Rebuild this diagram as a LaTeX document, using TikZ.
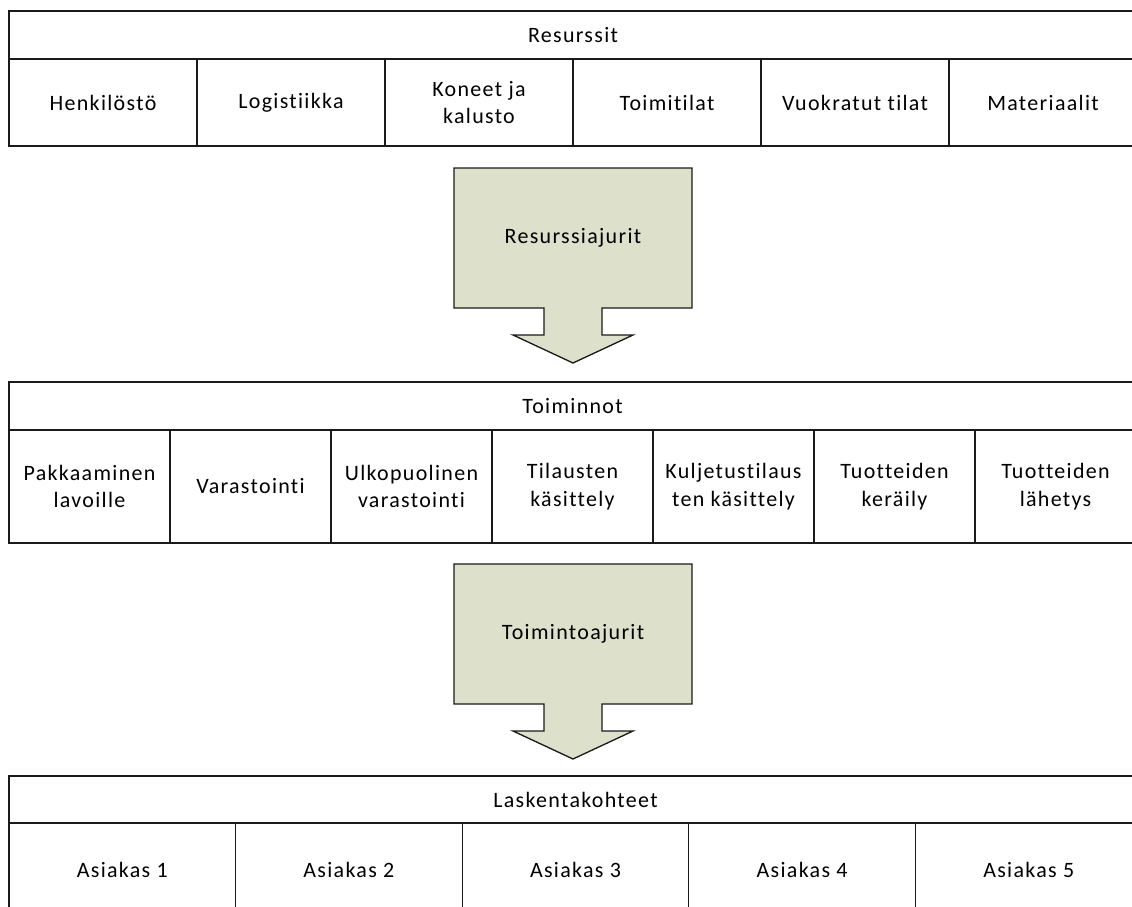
\documentclass[tikz,border=0pt]{standalone}
\usepackage{fontspec}
\setmainfont{Carlito}[LetterSpace=6, Ligatures=NoCommon]
\usepackage{tikz}

\definecolor{ajurifill}{RGB}{221,224,203}
\definecolor{viiva}{RGB}{26,26,26}

\tikzset{
	otsikko/.style={draw=viiva, line width=0.75pt, inner sep=0pt},
	solu/.style={draw=viiva, line width=0.75pt, align=center, inner sep=0pt},
	ajuri/.style={draw=viiva, line width=0.75pt, fill=ajurifill}
}

\begin{document}
\begin{tikzpicture}[x=0.02cm, y=-0.02cm, font=\fontsize{12.5}{15.6}\selectfont]
		\useasboundingbox (0,0) rectangle (1132,906);
		\clip (0,0) rectangle (1132,906);
		
		% Resurssit
		\node[otsikko, minimum width=22.56cm, minimum height=0.96cm] (resurssit) at (573,35) {Resurssit};
		\foreach \i/\txt in {0/Henkilöstö, 1/Logistiikka, 2/Koneet ja\\kalusto, 3/Toimitilat, 4/Vuokratut tilat, 5/Materiaalit}
			\node[solu, minimum width=3.76cm, minimum height=1.74cm] (res\i) at (103+188*\i,102.5) {\txt};
		
		% ajurit
		\foreach \dy/\nimi/\txt in {0/resajurit/Resurssiajurit, 396/toimajurit/Toimintoajurit}{
			\draw[ajuri] (454,168+\dy) -- (692,168+\dy) -- (692,308+\dy) -- (602,308+\dy) -- (602,335+\dy)
				-- (633,335+\dy) -- (573,363+\dy) -- (513,335+\dy) -- (544,335+\dy) -- (544,308+\dy) -- (454,308+\dy) -- cycle;
			\node (\nimi) at (573,238+\dy) {\txt};
		}
		
		% Toiminnot
		\node[otsikko, minimum width=22.54cm, minimum height=0.96cm] (toiminnot) at (572.5,406) {Toiminnot};
		\foreach \i/\txt in {0/Pakkaaminen\\lavoille, 1/Varastointi, 2/Ulkopuolinen\\varastointi, 3/Tilausten\\käsittely, 4/Kuljetustilaus\\ten käsittely, 5/Tuotteiden\\keräily, 6/Tuotteiden\\lähetys}
			\node[solu, minimum width=3.22cm, minimum height=2.26cm] (toim\i) at (89.5+161*\i,486.5) {\txt};
		
		% Laskentakohteet
		\node[otsikko, minimum width=22.66cm, minimum height=0.94cm] (laskenta) at (575.5,799.5) {Laskentakohteet};
		\foreach \i in {1,...,5}
			\node[solu, minimum width=4.532cm, minimum height=1.88cm] (as\i) at (-104.3+226.6*\i,870) {Asiakas \i};
	\end{tikzpicture}
\end{document}
